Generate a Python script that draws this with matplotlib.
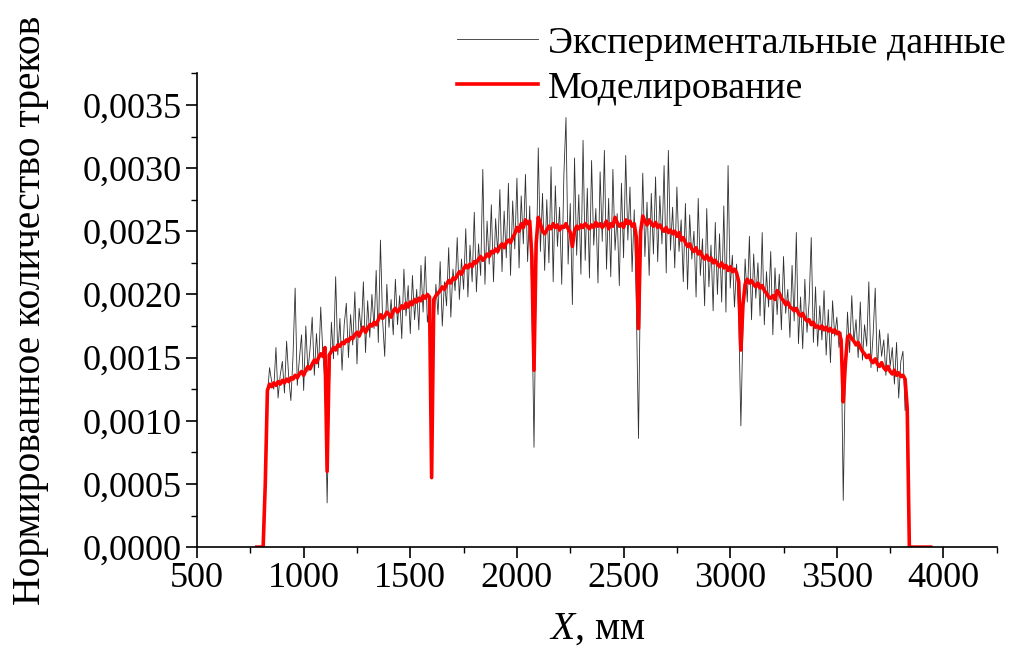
import numpy as np
import matplotlib
matplotlib.use("Agg")
import matplotlib.pyplot as plt
from matplotlib.ticker import MultipleLocator, FuncFormatter

# -----------------------------
# DATA (track counts in units of 1e-4)
# -----------------------------
SCALE = 1e-4

# experimental profile, 830..3830 mm every 10 mm
exp_x = np.arange(830, 3840, 10)
exp_y = [
    12.0, 14.2, 13.1, 12.5, 15.8, 11.8, 13.6, 14.7, 12.2, 16.3,
    13.4, 11.6, 15.1, 20.5, 12.8, 14.9, 16.8, 12.4, 17.5, 13.9,
    15.7, 18.2, 13.6, 16.9, 14.2, 19.0, 15.3, 13.0, 3.5, 12.3,
    17.8, 14.9, 21.4, 15.2, 18.1, 14.0, 17.6, 19.3, 15.0, 18.4,
    16.0, 20.2, 14.5, 18.9, 17.0, 21.0, 15.4, 19.5, 16.6, 20.0,
    17.3, 21.9, 16.2, 24.3, 18.0, 15.1, 20.8, 17.4, 19.6, 16.8,
    21.2, 17.6, 19.9, 16.5, 22.0, 18.3, 20.7, 16.9, 21.5, 18.0,
    20.4, 17.2, 22.3, 18.6, 23.0, 17.8, 19.2, 6.0, 17.0, 20.8,
    18.4, 22.6, 17.5, 21.0, 19.1, 23.7, 18.2, 22.0, 20.3, 24.5,
    19.6, 22.8, 20.4, 25.2, 19.8, 23.9, 21.0, 26.5, 20.2, 24.0,
    21.5, 29.9, 20.8, 25.8, 22.4, 27.1, 21.0, 26.0, 23.2, 28.3,
    21.8, 26.6, 22.9, 28.8, 21.5, 27.4, 23.6, 29.2, 22.1, 27.8,
    24.0, 29.5, 22.6, 27.0, 19.5, 7.9, 21.2, 31.6, 23.4, 28.0,
    21.9, 27.5, 22.5, 30.1, 21.0, 28.6, 23.8, 26.9, 20.8, 29.4,
    34.0, 22.4, 27.2, 19.2, 30.8, 23.1, 27.9, 21.6, 32.2, 22.7,
    28.4, 21.3, 30.6, 23.9, 26.8, 20.9, 29.7, 24.2, 31.4, 22.0,
    27.6, 21.4, 29.9, 23.5, 26.4, 20.7, 28.8, 22.9, 31.0, 24.3,
    28.5, 21.8, 26.7, 19.0, 8.6, 22.4, 29.6, 23.0, 27.3, 21.5,
    28.0, 23.2, 29.3, 22.6, 27.8, 24.0, 30.2, 21.7, 31.4, 23.5,
    26.9, 22.1, 28.5, 23.4, 25.9, 21.0, 27.2, 20.4, 26.3, 22.8,
    25.0, 19.8, 27.6, 21.5, 24.4, 19.1, 26.8, 20.6, 23.9, 18.7,
    25.7, 20.0, 24.8, 19.4, 27.0, 18.6, 30.2, 20.5, 23.1, 19.0,
    22.4, 18.2, 9.6, 17.5, 22.8, 19.4, 24.6, 18.0, 23.2, 19.7,
    22.5, 18.3, 24.9, 17.6, 21.8, 19.0, 23.4, 16.8, 22.1, 18.4,
    21.6, 17.2, 23.0, 18.5, 20.4, 16.6, 22.3, 17.9, 24.9, 16.1,
    19.8, 15.7, 21.2, 17.0, 19.4, 24.5, 16.2, 20.6, 15.9, 19.1,
    16.4, 20.3, 15.2, 18.8, 14.6, 19.5, 16.7, 18.2, 15.8, 17.0,
    3.7, 13.8, 18.6, 15.4, 19.9, 16.2, 18.0, 15.0, 19.4, 14.8,
    17.6, 15.9, 21.0, 14.2, 16.8, 20.5, 13.9, 17.2, 15.1, 16.4,
    13.6, 16.9, 14.3, 15.8, 12.9, 16.2, 11.8, 14.7, 15.5, 10.8, 12.2,
]

# simulated profile, 780..3940 mm every 10 mm
sim_x = np.arange(780, 3950, 10)
sim_y = [
    0.0, 0.0, 0.0, 0.0, 5.0,
    12.4, 12.9, 12.7, 13.0, 12.8, 13.1, 12.9, 13.2, 13.0, 13.3,
    13.1, 13.4, 13.3, 13.6, 13.4, 13.7, 13.9, 13.6, 14.0, 14.3,
    14.1, 14.5, 14.8, 14.6, 15.0, 15.3, 15.1, 15.8, 6.0, 15.2,
    15.5, 15.8, 15.6, 16.0, 15.9, 16.2, 16.1, 16.4, 16.3, 16.6,
    16.5, 16.8, 17.0, 16.7, 17.1, 17.4, 17.0, 17.3, 17.6, 17.5,
    17.8, 17.6, 18.0, 18.4, 18.1, 18.3, 18.6, 18.4, 18.2, 18.7,
    18.9, 18.6, 18.8, 19.1, 18.9, 19.3, 19.0, 19.4, 19.2, 19.6,
    19.4, 19.7, 19.5, 19.9, 19.7, 20.0, 19.8, 5.5, 19.6, 19.9,
    20.1, 20.3, 20.6, 20.4, 20.8, 21.1, 20.9, 21.3, 21.2, 21.5,
    21.8, 21.6, 22.0, 22.3, 22.1, 22.4, 22.2, 22.6, 22.5, 22.8,
    23.0, 22.7, 22.9, 23.2, 23.0, 23.4, 23.3, 23.6, 23.4, 23.8,
    24.0, 23.7, 24.1, 24.3, 24.1, 24.5, 24.8, 25.3, 25.0, 25.6,
    25.3, 25.9, 25.6, 25.8, 23.0, 14.0, 24.0, 26.1, 25.6, 25.0,
    24.8, 25.1, 25.4, 25.2, 25.6, 25.3, 25.5, 25.1, 25.4, 25.3,
    25.6, 25.2, 24.9, 23.8, 25.0, 25.4, 25.2, 25.5, 25.3, 25.6,
    25.4, 25.2, 25.5, 25.3, 25.7, 25.4, 25.6, 25.3, 25.5, 25.8,
    25.2, 25.6, 25.4, 26.1, 25.7, 25.4, 25.6, 25.3, 25.9, 25.6,
    25.8, 25.4, 25.6, 24.5, 17.3, 25.0, 26.2, 25.8, 25.5, 25.9,
    25.6, 25.4, 25.7, 25.3, 25.5, 25.2, 25.0, 25.3, 24.9, 25.1,
    24.8, 25.0, 24.6, 24.9, 24.3, 24.5, 24.1, 23.8, 24.0, 23.6,
    23.4, 23.7, 23.2, 23.4, 23.0, 22.8, 23.1, 22.7, 22.9, 22.5,
    22.7, 22.4, 22.2, 22.5, 22.1, 22.3, 21.9, 22.2, 21.8, 22.0,
    21.7, 21.0, 15.6, 19.2, 20.8, 21.2, 20.9, 21.1, 20.8, 20.6,
    20.9, 20.5, 20.7, 20.3, 20.1, 19.8, 19.7, 19.9, 19.6, 20.3,
    20.1, 19.7, 19.5, 19.2, 19.4, 19.0, 18.9, 18.7, 18.9, 18.5,
    18.3, 18.5, 18.1, 17.9, 18.0, 17.6, 17.8, 17.4, 17.5, 17.3,
    17.5, 17.2, 17.4, 17.1, 17.3, 17.0, 17.2, 16.9, 17.0, 16.4,
    11.5, 14.5, 16.6, 16.8, 16.5, 16.3, 16.0, 16.2, 15.8, 15.5,
    15.3, 15.0, 15.2, 14.8, 14.6, 14.9, 14.5, 14.3, 14.6, 14.2,
    14.0, 14.3, 13.9, 13.7, 14.0, 13.6, 13.8, 13.5, 13.6, 13.3,
    11.0, 0.0, 0.0, 0.0, 0.0, 0.0, 0.0, 0.0, 0.0, 0.0, 0.0, 0.0,
]

LABEL_EXP = "Экспериментальные данные"
LABEL_SIM = "Моделирование"

# -----------------------------
# STYLE
# -----------------------------
plt.rcParams["font.family"] = ["Liberation Serif", "DejaVu Serif"]
plt.rcParams["mathtext.fontset"] = "custom"
plt.rcParams["mathtext.it"] = "Liberation Serif:italic"
plt.rcParams["mathtext.rm"] = "Liberation Serif"
FS_TICK = 26
FS_LABEL = 28.5
FS_LEGEND = 27.3

fig = plt.figure(figsize=(10.13, 6.49), dpi=100)
ax = fig.add_axes([0.1945, 0.157, 0.7895, 0.73])

ax.plot(exp_x, np.array(exp_y) * SCALE, color="#303030", lw=0.6, label=LABEL_EXP)
ax.plot(sim_x, np.array(sim_y) * SCALE, color="#ff0000", lw=2.6, label=LABEL_SIM)

ax.set_xlim(500, 4250)
ax.set_ylim(0, 0.00375)

for side in ("top", "right"):
    ax.spines[side].set_visible(False)
for side in ("left", "bottom"):
    ax.spines[side].set_linewidth(1.2)

ax.xaxis.set_major_locator(MultipleLocator(500))
ax.xaxis.set_minor_locator(MultipleLocator(250))
ax.yaxis.set_major_locator(MultipleLocator(0.0005))
ax.yaxis.set_minor_locator(MultipleLocator(0.00025))
ax.yaxis.set_major_formatter(FuncFormatter(lambda v, _: f"{v:.4f}".replace(".", ",")))

ax.tick_params(which="major", direction="out", length=8, width=1.2, labelsize=FS_TICK, pad=3)
ax.tick_params(which="minor", direction="out", length=4, width=1.0)

ax.set_xlabel(r"$\mathit{X}$, мм", fontsize=FS_LABEL)
ax.xaxis.set_label_coords(0.5, -0.135)
ax.set_ylabel("Нормированное количество треков", fontsize=FS_LABEL)
ax.yaxis.set_label_coords(-0.185, 0.5)

fig.legend(loc="upper right", bbox_to_anchor=(0.993, 0.96), frameon=False,
           fontsize=FS_LEGEND, handlelength=2.15, handletextpad=0.26,
           labelspacing=0.28, borderpad=0.0, borderaxespad=0.0)

fig.savefig("out.png", dpi=100)
